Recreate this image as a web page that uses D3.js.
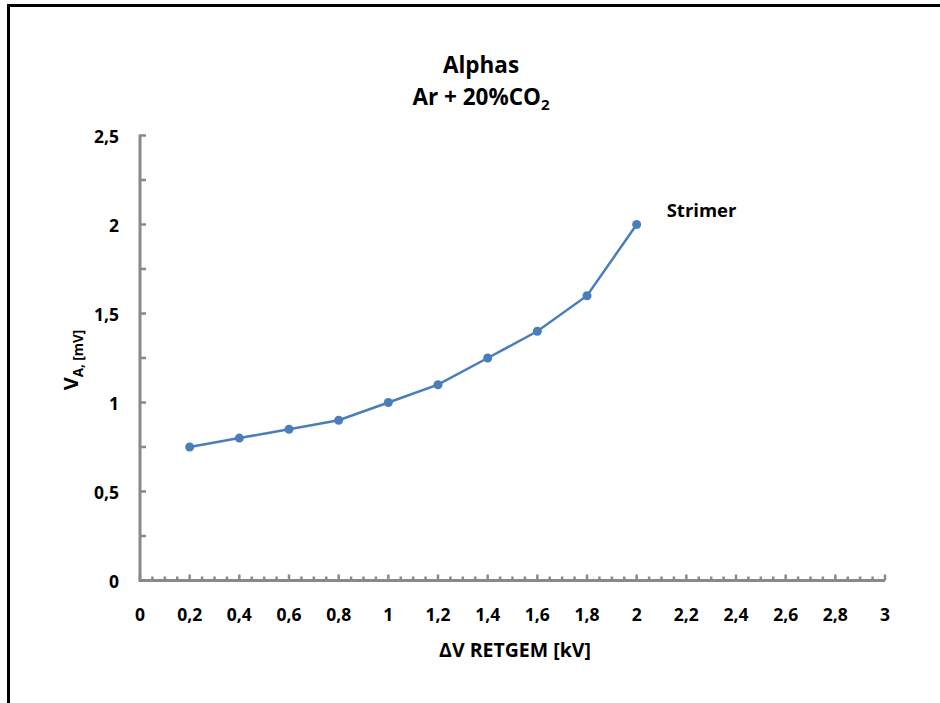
<!DOCTYPE html>
<html>
<head>
<meta charset="utf-8">
<script src="https://cdn.jsdelivr.net/npm/d3@7"></script>
<style>
  body { margin: 0; background: #fff; }
  svg { display: block; }
  text { font-family: "Open Sans", "Noto Sans", sans-serif; font-weight: bold; fill: #000; }
</style>
</head>
<body>
<div id="chart"></div>
<script>
var width = 940;
var height = 703;

// data
var voltage = [0.2, 0.4, 0.6, 0.8, 1, 1.2, 1.4, 1.6, 1.8, 2];
var amplitude = [0.75, 0.8, 0.85, 0.9, 1, 1.1, 1.25, 1.4, 1.6, 2];
var xTicks = [0, 0.2, 0.4, 0.6, 0.8, 1, 1.2, 1.4, 1.6, 1.8, 2, 2.2, 2.4, 2.6, 2.8, 3];
var yTicks = [0, 0.5, 1, 1.5, 2, 2.5];

var margin = {left: 140, right: 55, top: 135.5, bottom: 122.5};

var svg = d3.select('#chart').append('svg')
  .attr('width', width)
  .attr('height', height);

// outer frame (runs off the right / bottom edges)
svg.append('rect')
  .attr('x', 8.5)
  .attr('y', 5.5)
  .attr('width', 960)
  .attr('height', 720)
  .attr('fill', 'none')
  .attr('stroke', '#000')
  .attr('stroke-width', 3);

var x = d3.scaleLinear().domain([0, 3]).range([margin.left, width - margin.right]);
var y = d3.scaleLinear().domain([0, 2.5]).range([height - margin.bottom, margin.top]);

var fmt = function(d) { return String(d).replace('.', ','); };

// minor ticks
var xMinor = d3.range(0, 3.0001, 0.05);
var yMinor = d3.range(0, 2.5001, 0.25);

var axisColor = '#898989';

svg.append('g')
  .selectAll('line')
  .data(xMinor)
  .enter().append('line')
  .attr('x1', function(d) { return x(d); })
  .attr('x2', function(d) { return x(d); })
  .attr('y1', y(0))
  .attr('y2', function(d, i) { return y(0) - (i % 4 === 0 ? 6 : 4); })
  .attr('stroke', axisColor)
  .attr('stroke-width', 2.5);

svg.append('g')
  .selectAll('line')
  .data(yMinor)
  .enter().append('line')
  .attr('y1', function(d) { return y(d); })
  .attr('y2', function(d) { return y(d); })
  .attr('x1', x(0))
  .attr('x2', x(0) + 6)
  .attr('stroke', axisColor)
  .attr('stroke-width', 2.5);

// axis lines
svg.append('line')
  .attr('x1', x(0)).attr('x2', x(3))
  .attr('y1', y(0)).attr('y2', y(0))
  .attr('stroke', axisColor).attr('stroke-width', 3);
svg.append('line')
  .attr('x1', x(0)).attr('x2', x(0))
  .attr('y1', y(0) + 1.5).attr('y2', y(2.5) - 1)
  .attr('stroke', axisColor).attr('stroke-width', 3);

// tick labels
svg.append('g')
  .selectAll('text')
  .data(xTicks)
  .enter().append('text')
  .attr('x', function(d) { return x(d); })
  .attr('y', y(0) + 40)
  .attr('text-anchor', 'middle')
  .attr('font-size', 17.5)
  .text(fmt);

svg.append('g')
  .selectAll('text')
  .data(yTicks)
  .enter().append('text')
  .attr('x', x(0) - 21)
  .attr('y', function(d) { return y(d) + 7; })
  .attr('text-anchor', 'end')
  .attr('font-size', 17.5)
  .text(fmt);

// series
var points = voltage.map(function(v, i) { return [v, amplitude[i]]; });

svg.append('path')
  .datum(points)
  .attr('fill', 'none')
  .attr('stroke', '#4A7EBB')
  .attr('stroke-width', 2.5)
  .attr('d', d3.line()
    .x(function(d) { return x(d[0]); })
    .y(function(d) { return y(d[1]); }));

svg.append('g')
  .selectAll('circle')
  .data(points)
  .enter().append('circle')
  .attr('cx', function(d) { return x(d[0]); })
  .attr('cy', function(d) { return y(d[1]); })
  .attr('r', 4.5)
  .attr('fill', '#4A7EBB');

// annotation
svg.append('text')
  .attr('x', x(2) + 30)
  .attr('y', y(2) - 8)
  .attr('font-size', 18.5)
  .text('Strimer');

// title
svg.append('text')
  .attr('x', 481)
  .attr('y', 73)
  .attr('text-anchor', 'middle')
  .attr('font-size', 22.5)
  .text('Alphas');

var sub = svg.append('text')
  .attr('x', 481)
  .attr('y', 105)
  .attr('text-anchor', 'middle')
  .attr('font-size', 22.5);
sub.append('tspan').text('Ar + 20%CO');
sub.append('tspan').attr('font-size', 15).attr('dy', 5).text('2');

// axis titles
svg.append('text')
  .attr('x', 515)
  .attr('y', 657)
  .attr('text-anchor', 'middle')
  .attr('font-size', 19.5)
  .text('\u0394V RETGEM [kV]');

var yl = svg.append('text')
  .attr('transform', 'translate(78,' + 360 + ') rotate(-90)')
  .attr('text-anchor', 'middle')
  .attr('font-size', 20);
yl.append('tspan').text('V');
yl.append('tspan').attr('font-size', 13.5).attr('dy', 5).text('A, [mV]');
</script>
</body>
</html>
